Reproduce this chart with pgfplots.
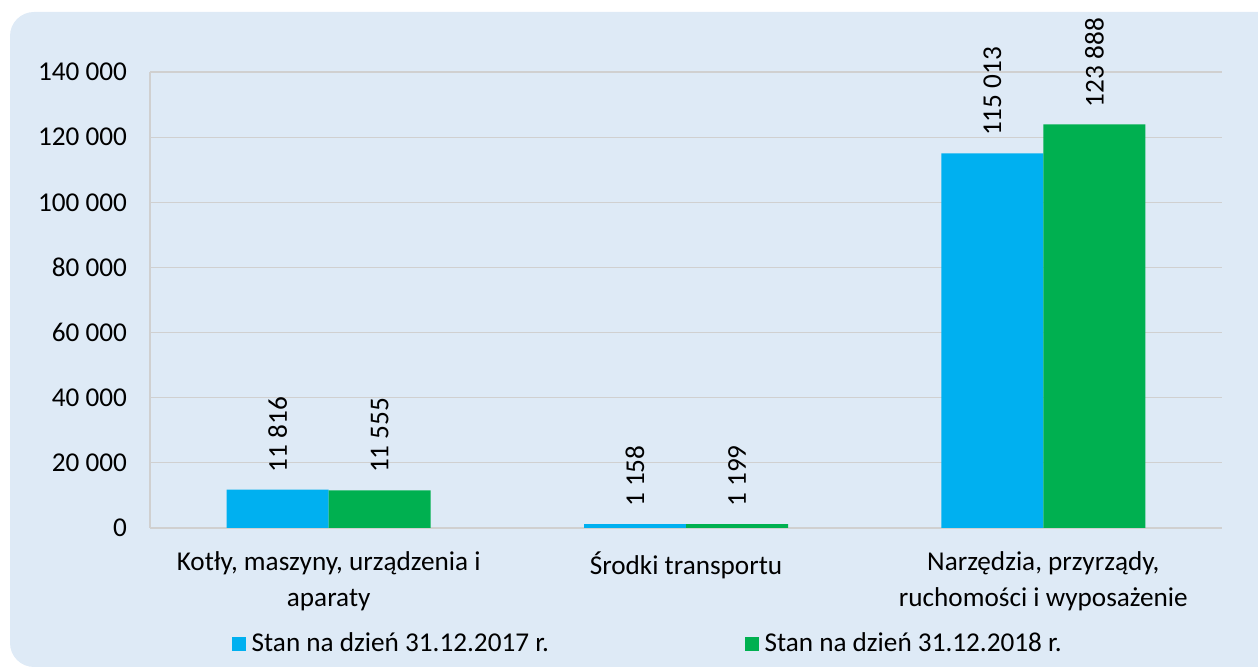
\documentclass[border=0pt]{standalone}
\usepackage{fontspec}
\setmainfont{Carlito}
\usepackage{pgfplots}
\pgfplotsset{compat=1.18}
\definecolor{bgblue}{HTML}{DEEAF6}
\definecolor{barblue}{HTML}{00B0F0}
\definecolor{bargreen}{HTML}{00B050}
\definecolor{gridgray}{HTML}{D0D0D0}
\newcommand{\lblfont}{\fontsize{13.6}{17}\selectfont}
\begin{document}
\begin{tikzpicture}
\path[use as bounding box] (0pt,0pt) rectangle (629pt,334pt);
\fill[bgblue, rounded corners=12pt] (5pt,0.5pt) rectangle (650pt,328pt);
\begin{axis}[
  at={(75pt,70pt)}, anchor=south west,
  scale only axis, width=536pt, height=228pt,
  ybar=0pt, bar width=51pt,
  xmin=-0.5, xmax=2.5, ymin=0, ymax=140000,
  enlarge y limits=false,
  xtick=data,
  xticklabels={{Kotły, maszyny, urządzenia i\\aparaty},{Środki transportu},{Narzędzia, przyrządy,\\ruchomości i wyposażenie}},
  ytick={0,20000,...,140000},
  scaled y ticks=false,
  /pgf/number format/assume math mode=true,
  /pgf/number format/.cd, fixed, precision=0, 1000 sep={\ }, /pgfplots/.cd,
  yticklabel style={font=\lblfont, xshift=-8pt},
  xticklabel style={font=\fontsize{13.6}{17.6}\selectfont, align=center, yshift=-8.5pt},
  major tick length=0pt,
  ymajorgrids, grid style={draw=gridgray, line width=0.6pt},
  axis lines*=left,
  axis line style={draw=gridgray, line width=0.6pt, -},
  nodes near coords={\pgfmathprintnumber[fixed,precision=0,1000 sep={\ },assume math mode=true]{\pgfplotspointmeta}},
  nodes near coords style={rotate=90, anchor=west, font=\lblfont, inner xsep=8.5pt, text=black},
  legend columns=2,
  legend style={at={(0.466,-0.254)}, anchor=center, draw=none, fill=none, font=\lblfont,
    nodes={inner xsep=2.8pt},
    /tikz/every even column/.append style={column sep=95pt}},
  legend image code/.code={\fill[#1] (0pt,-3.6pt) rectangle (7.2pt,3.6pt);},
]
\addplot[fill=barblue, draw=none] coordinates {(0,11816) (1,1158) (2,115013)};
\addplot[fill=bargreen, draw=none] coordinates {(0,11555) (1,1199) (2,123888)};
\legend{Stan na dzień 31.12.2017 r., Stan na dzień 31.12.2018 r.}
\end{axis}
\end{tikzpicture}
\end{document}
